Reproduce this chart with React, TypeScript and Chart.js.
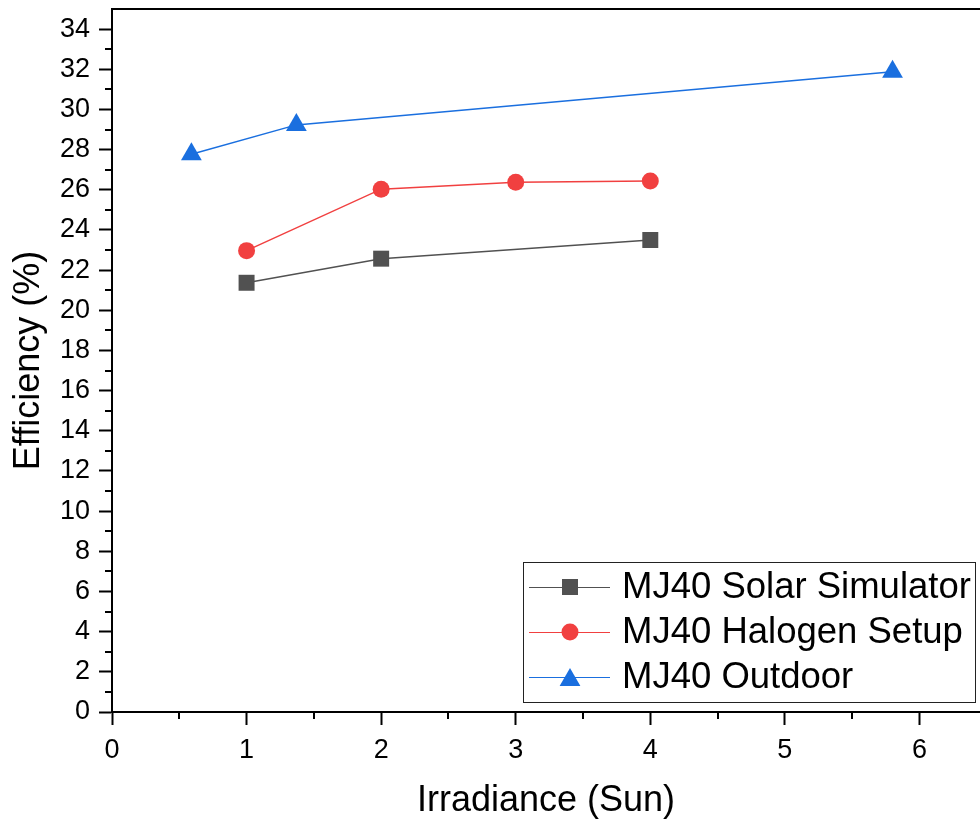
import React, { useEffect, useRef } from "react";
import { Chart, registerables } from "chart.js";

Chart.register(...registerables);

const FONT = "'Liberation Sans', Arial, Helvetica, sans-serif";

// Series data: irradiance (suns) vs. cell efficiency (%)
const seriesNames = ["MJ40 Solar Simulator", "MJ40 Halogen Setup", "MJ40 Outdoor"];
const simulatorIrradiance = [1, 2, 4];
const simulatorEfficiency = [21.37, 22.57, 23.5];
const halogenIrradiance = [1, 2, 3, 4];
const halogenEfficiency = [22.97, 26.03, 26.38, 26.44];
const outdoorIrradiance = [0.59, 1.37, 5.8];
const outdoorEfficiency = [27.77, 29.23, 31.87];

const seriesColors = ["#515151", "#F14040", "#1A6FDF"];
const seriesPointStyles = ["rect", "circle", "triangle"];
const seriesPointRadii = [11.3, 8.5, 12];

// Axis ranges
const xMin = 0;
const xMax = 6.45;
const xStep = 1;
const yMin = 0;
const yMax = 35;
const yStep = 2;

const toPoints = (xs: number[], ys: number[]) => xs.map((x, i) => ({ x, y: ys[i] }));

function drawMarker(ctx: CanvasRenderingContext2D, style: string, r: number, x: number, y: number) {
  ctx.beginPath();
  if (style === "rect") {
    const s = Math.SQRT1_2 * r;
    ctx.rect(x - s, y - s, 2 * s, 2 * s);
  } else if (style === "circle") {
    ctx.arc(x, y, r, 0, Math.PI * 2);
  } else {
    const w = Math.sin((2 * Math.PI) / 3) * r;
    ctx.moveTo(x, y - r);
    ctx.lineTo(x + w, y + 0.5 * r);
    ctx.lineTo(x - w, y + 0.5 * r);
    ctx.closePath();
  }
  ctx.fill();
}

// Top frame line and minor tick marks
const framePlugin = {
  id: "frame",
  afterDraw(chart: any) {
    const { ctx, chartArea, scales } = chart;
    const { left, right, top, bottom } = chartArea;
    ctx.save();
    ctx.strokeStyle = "#000";
    ctx.lineWidth = 2;
    ctx.beginPath();
    ctx.moveTo(left - 1, top);
    ctx.lineTo(right, top);
    ctx.stroke();

    const minorLen = 7;
    ctx.beginPath();
    for (let v = xMin + xStep / 2; v < xMax; v += xStep) {
      const px = Math.round(scales.x.getPixelForValue(v));
      ctx.moveTo(px, bottom);
      ctx.lineTo(px, bottom + minorLen);
    }
    for (let v = yMin + yStep / 2; v < yMax; v += yStep) {
      const py = Math.round(scales.y.getPixelForValue(v));
      ctx.moveTo(left, py);
      ctx.lineTo(left - minorLen, py);
    }
    ctx.stroke();
    ctx.restore();
  },
};

// Boxed legend inside the lower right of the plot
const legendPlugin = {
  id: "boxLegend",
  afterDraw(chart: any) {
    const { ctx } = chart;
    const boxLeft = 523.5;
    const boxTop = 562.5;
    const boxRight = 975.5;
    const boxBottom = 702.5;
    const rowGap = 45;
    const firstRow = 587;
    const lineStart = 529;
    const lineEnd = 610;
    const markerX = 570;
    const textX = 622;

    ctx.save();
    ctx.fillStyle = "#fff";
    ctx.fillRect(boxLeft, boxTop, boxRight - boxLeft, boxBottom - boxTop);
    ctx.strokeStyle = "#222";
    ctx.lineWidth = 1;
    ctx.strokeRect(boxLeft, boxTop, boxRight - boxLeft, boxBottom - boxTop);

    chart.data.datasets.forEach((ds: any, i: number) => {
      const y = firstRow + i * rowGap;
      ctx.strokeStyle = ds.borderColor;
      ctx.lineWidth = 1;
      ctx.beginPath();
      ctx.moveTo(lineStart, y + 0.5);
      ctx.lineTo(lineEnd, y + 0.5);
      ctx.stroke();

      ctx.fillStyle = ds.pointBackgroundColor;
      const offsetY = ds.pointStyle === "triangle" ? 3 : 0;
      drawMarker(ctx, ds.pointStyle, ds.pointRadius, markerX, y + offsetY);

      ctx.fillStyle = "#000";
      ctx.font = `36.5px ${FONT}`;
      ctx.textAlign = "left";
      ctx.textBaseline = "middle";
      ctx.fillText(ds.label, textX, y + 1);
    });
    ctx.restore();
  },
};

export default function App() {
  const canvasRef = useRef<HTMLCanvasElement | null>(null);

  useEffect(() => {
    if (!canvasRef.current) return;
    const xs = [simulatorIrradiance, halogenIrradiance, outdoorIrradiance];
    const ys = [simulatorEfficiency, halogenEfficiency, outdoorEfficiency];

    const datasets = seriesNames.map((name, i) => ({
      label: name,
      data: toPoints(xs[i], ys[i]),
      showLine: true,
      borderColor: seriesColors[i],
      borderWidth: 1.5,
      pointStyle: seriesPointStyles[i],
      pointRadius: seriesPointRadii[i],
      pointHoverRadius: seriesPointRadii[i],
      pointBackgroundColor: seriesColors[i],
      pointBorderColor: seriesColors[i],
      pointBorderWidth: 0,
      tension: 0,
      clip: false,
    }));

    const tickFont = { family: FONT, size: 27 };
    const titleFont = { family: FONT, size: 36 };

    const chart = new Chart(canvasRef.current, {
      type: "scatter",
      data: { datasets: datasets as any },
      options: {
        animation: false,
        responsive: false,
        events: [],
        layout: { autoPadding: false, padding: { top: 9, right: 0, left: 0, bottom: 0 } },
        plugins: {
          legend: { display: false },
          tooltip: { enabled: false },
        },
        scales: {
          x: {
            type: "linear",
            min: xMin,
            max: xMax,
            ticks: {
              stepSize: xStep,
              includeBounds: false,
              color: "#000",
              font: tickFont,
              padding: 9,
              maxRotation: 0,
            },
            grid: {
              drawOnChartArea: false,
              drawTicks: true,
              tickLength: 13,
              tickWidth: 2,
              tickColor: "#000",
            },
            border: { display: true, color: "#000", width: 2 },
            title: {
              display: true,
              text: "Irradiance (Sun)",
              color: "#000",
              font: titleFont,
              padding: { top: 0, bottom: 5 },
            },
            afterFit(scale: any) {
              scale.height = 116;
              scale.paddingLeft = 0;
              scale.paddingRight = 0;
            },
          },
          y: {
            type: "linear",
            min: yMin,
            max: yMax,
            ticks: {
              stepSize: yStep,
              includeBounds: false,
              color: "#000",
              font: tickFont,
              padding: 9,
            },
            grid: {
              drawOnChartArea: false,
              drawTicks: true,
              tickLength: 13,
              tickWidth: 2,
              tickColor: "#000",
            },
            border: { display: true, color: "#000", width: 2 },
            title: {
              display: true,
              text: "Efficiency (%)",
              color: "#000",
              font: titleFont,
              padding: { top: 7, bottom: 0 },
            },
            afterFit(scale: any) {
              scale.width = 112;
              scale.paddingTop = 0;
              scale.paddingBottom = 0;
            },
          },
        },
      } as any,
      plugins: [framePlugin, legendPlugin],
    });

    return () => chart.destroy();
  }, []);

  return (
    <div style={{ position: "absolute", left: 0, top: 0, width: 980, height: 828, background: "#fff" }}>
      <canvas ref={canvasRef} width={980} height={828} />
    </div>
  );
}
